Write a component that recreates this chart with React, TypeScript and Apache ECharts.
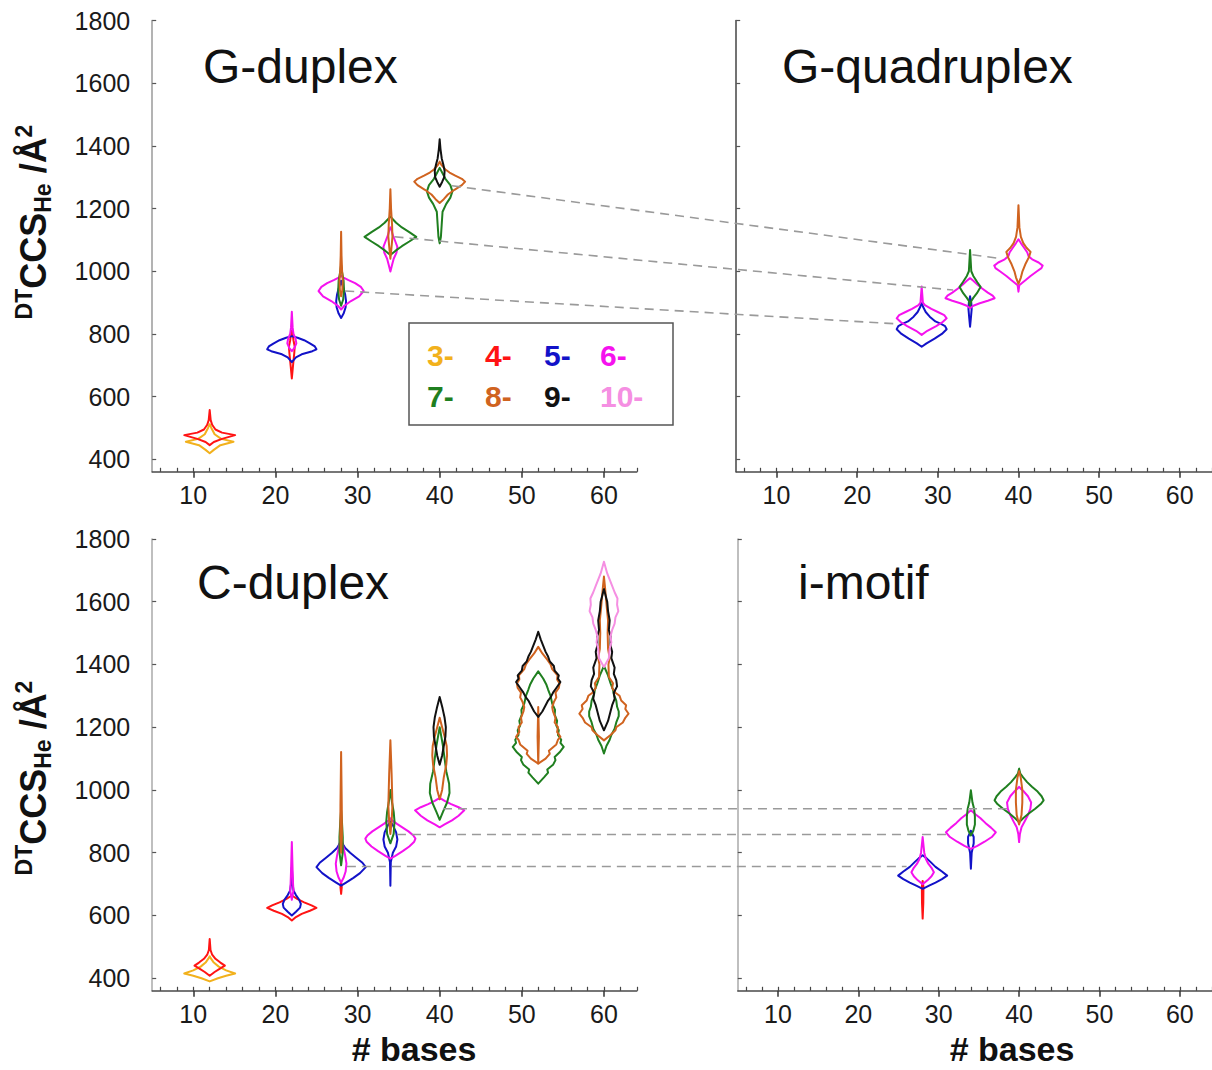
import React, { useEffect, useRef } from "react";
import * as echarts from "echarts";

// charge states and colours
const chargeLabels = ["3-", "4-", "5-", "6-", "7-", "8-", "9-", "10-"];
const chargeValues = [3, 4, 5, 6, 7, 8, 9, 10];
const chargeColors = ["#F2B11C", "#FF1414", "#1212C8", "#F512EE", "#1F7F1F", "#D0631F", "#111111", "#F58FE2"];

const yTicks = [400, 600, 800, 1000, 1200, 1400, 1600, 1800];
const xTicks = [10, 20, 30, 40, 50, 60];
const xMinorTicks = [6, 8, 10, 12, 14, 16, 18, 20, 22, 24, 26, 28, 30, 32, 34, 36, 38, 40, 42, 44, 46, 48, 50, 52, 54, 56, 58, 60, 62, 64];

type Violin = { bases: number; z: number; profile: [number, number][] };
// profile: [CCS (Å²), half width (in # bases units)] from bottom to top

const gDuplexViolins: Violin[] = [
  { bases: 12, z: 3, profile: [[419, 0], [430, 0.5], [445, 1.3], [456, 2.9], [465, 1.4], [480, 0.6], [500, 0.2], [512, 0]] },
  { bases: 12, z: 4, profile: [[445, 0], [455, 0.5], [465, 1.5], [477, 3.1], [485, 1.5], [495, 0.7], [510, 0.3], [525, 0.12], [557, 0]] },
  { bases: 22, z: 4, profile: [[658, 0], [700, 0.15], [740, 0.3], [760, 0.35], [780, 0.2], [800, 0.1], [810, 0]] },
  { bases: 22, z: 5, profile: [[710, 0], [725, 0.5], [735, 1.2], [745, 2.5], [751, 3.0], [760, 2.8], [770, 2.2], [780, 1.5], [788, 0.7], [793, 0]] },
  { bases: 22, z: 6, profile: [[745, 0], [755, 0.3], [770, 0.55], [785, 0.45], [800, 0.2], [820, 0.1], [871, 0]] },
  { bases: 28, z: 5, profile: [[851, 0], [865, 0.3], [885, 0.55], [905, 0.6], [925, 0.5], [945, 0.3], [960, 0.1], [970, 0]] },
  { bases: 28, z: 6, profile: [[878, 0], [890, 0.4], [905, 1.2], [920, 2.2], [937, 2.75], [950, 2.4], [962, 1.7], [972, 0.9], [980, 0.3], [985, 0]] },
  { bases: 28, z: 7, profile: [[890, 0], [910, 0.25], [940, 0.35], [970, 0.3], [1000, 0.1], [1020, 0]] },
  { bases: 28, z: 8, profile: [[920, 0], [940, 0.15], [970, 0.2], [1000, 0.12], [1050, 0.05], [1126, 0]] },
  { bases: 34, z: 6, profile: [[999, 0], [1020, 0.2], [1040, 0.4], [1060, 0.75], [1078, 0.85], [1095, 0.6], [1115, 0.3], [1135, 0.1], [1140, 0]] },
  { bases: 34, z: 7, profile: [[1052, 0], [1065, 0.6], [1080, 1.4], [1095, 2.3], [1110, 3.15], [1125, 2.3], [1140, 1.4], [1155, 0.7], [1170, 0.15], [1175, 0]] },
  { bases: 34, z: 8, profile: [[1040, 0], [1080, 0.15], [1110, 0.25], [1150, 0.2], [1200, 0.08], [1262, 0]] },
  { bases: 40, z: 7, profile: [[1089, 0], [1110, 0.15], [1150, 0.25], [1190, 0.35], [1215, 0.8], [1235, 1.3], [1255, 1.55], [1275, 1.3], [1295, 0.7], [1315, 0.3], [1330, 0]] },
  { bases: 40, z: 8, profile: [[1218, 0], [1230, 0.5], [1245, 1.0], [1260, 1.8], [1275, 2.7], [1286, 3.1], [1295, 2.7], [1305, 1.9], [1315, 1.2], [1325, 0.7], [1340, 0.2], [1350, 0]] },
  { bases: 40, z: 9, profile: [[1270, 0], [1285, 0.3], [1300, 0.55], [1320, 0.6], [1340, 0.45], [1360, 0.25], [1390, 0.1], [1421, 0]] },
];

const gQuadViolins: Violin[] = [
  { bases: 28, z: 5, profile: [[759, 0], [770, 0.6], [785, 1.6], [800, 2.5], [815, 3.1], [825, 2.9], [832, 2.4], [840, 1.7], [855, 1.0], [870, 0.5], [885, 0.2], [898, 0]] },
  { bases: 28, z: 6, profile: [[797, 0], [810, 0.7], [825, 1.8], [838, 2.6], [850, 3.1], [860, 2.8], [870, 2.0], [880, 1.2], [892, 0.4], [900, 0.15], [951, 0]] },
  { bases: 34, z: 5, profile: [[823, 0], [850, 0.1], [880, 0.2], [900, 0.15], [920, 0]] },
  { bases: 34, z: 6, profile: [[882, 0], [890, 0.4], [898, 1.2], [906, 2.2], [914, 3.05], [922, 2.8], [932, 2.2], [945, 1.5], [958, 0.9], [970, 0.4], [978, 0]] },
  { bases: 34, z: 7, profile: [[890, 0], [905, 0.15], [915, 0.4], [930, 0.85], [950, 1.3], [965, 0.9], [985, 0.4], [1000, 0.15], [1068, 0]] },
  { bases: 40, z: 6, profile: [[935, 0], [955, 0.1], [962, 0.4], [972, 0.9], [985, 1.5], [1000, 2.3], [1010, 2.85], [1018, 3.0], [1028, 2.5], [1038, 1.7], [1048, 1.25], [1060, 1.1], [1075, 0.7], [1090, 0.3], [1102, 0]] },
  { bases: 40, z: 8, profile: [[960, 0], [980, 0.3], [1000, 0.5], [1025, 0.9], [1045, 1.3], [1062, 1.5], [1075, 1.0], [1090, 0.6], [1110, 0.3], [1140, 0.12], [1211, 0]] },
];

const cDuplexViolins: Violin[] = [
  { bases: 12, z: 3, profile: [[390, 0], [400, 1.0], [408, 2.0], [415, 3.1], [425, 2.0], [437, 1.1], [450, 0.5], [465, 0.1], [470, 0]] },
  { bases: 12, z: 4, profile: [[408, 0], [420, 0.6], [430, 1.2], [440, 1.85], [450, 1.3], [462, 0.7], [475, 0.3], [490, 0.1], [525, 0]] },
  { bases: 22, z: 4, profile: [[584, 0], [595, 0.5], [605, 1.2], [615, 2.2], [624, 3.0], [632, 2.4], [642, 1.5], [652, 0.7], [662, 0.1], [665, 0]] },
  { bases: 22, z: 5, profile: [[600, 0], [612, 0.5], [625, 1.0], [637, 1.1], [650, 0.9], [665, 0.5], [680, 0.2], [700, 0.1], [754, 0]] },
  { bases: 22, z: 6, profile: [[650, 0], [680, 0.2], [700, 0.15], [740, 0.1], [834, 0]] },
  { bases: 28, z: 4, profile: [[669, 0], [690, 0.08], [705, 0]] },
  { bases: 28, z: 5, profile: [[695, 0], [705, 0.6], [720, 1.5], [735, 2.3], [754, 3.0], [768, 2.6], [785, 1.8], [800, 1.1], [815, 0.5], [830, 0.15], [835, 0]] },
  { bases: 28, z: 6, profile: [[705, 0], [720, 0.3], [740, 0.55], [765, 0.65], [790, 0.5], [815, 0.3], [840, 0.1], [860, 0]] },
  { bases: 28, z: 7, profile: [[760, 0], [800, 0.2], [850, 0.2], [900, 0.1], [935, 0]] },
  { bases: 28, z: 8, profile: [[800, 0], [850, 0.1], [950, 0.08], [1121, 0]] },
  { bases: 34, z: 5, profile: [[695, 0], [770, 0.05], [800, 0.3], [820, 0.7], [842, 0.85], [865, 0.7], [885, 0.35], [900, 0]] },
  { bases: 34, z: 6, profile: [[781, 0], [790, 0.6], [805, 1.5], [820, 2.3], [835, 2.9], [845, 3.05], [855, 2.8], [868, 2.2], [880, 1.5], [892, 0.8], [903, 0.2], [910, 0]] },
  { bases: 34, z: 7, profile: [[830, 0], [860, 0.4], [900, 0.5], [930, 0.4], [960, 0.2], [1000, 0]] },
  { bases: 34, z: 8, profile: [[860, 0], [900, 0.15], [950, 0.25], [1000, 0.2], [1050, 0.15], [1158, 0]] },
  { bases: 40, z: 6, profile: [[881, 0], [890, 0.6], [903, 1.5], [918, 2.3], [935, 3.0], [945, 2.3], [955, 1.4], [965, 0.6], [975, 0]] },
  { bases: 40, z: 7, profile: [[905, 0], [930, 0.4], [960, 0.9], [990, 1.2], [1020, 1.15], [1060, 0.8], [1100, 0.6], [1140, 0.4], [1170, 0.2], [1200, 0]] },
  { bases: 40, z: 8, profile: [[970, 0], [1000, 0.3], [1040, 0.5], [1080, 0.8], [1110, 0.9], [1140, 0.85], [1170, 0.6], [1200, 0.3], [1230, 0]] },
  { bases: 40, z: 9, profile: [[1080, 0], [1110, 0.3], [1140, 0.5], [1170, 0.7], [1200, 0.75], [1230, 0.6], [1260, 0.35], [1296, 0]] },
  { bases: 52, z: 7, profile: [[1020, 0], [1040, 0.7], [1055, 1.2], [1065, 1.1], [1080, 1.8], [1095, 2.1], [1105, 2.0], [1120, 2.6], [1137, 3.1], [1150, 2.7], [1160, 2.8], [1175, 2.4], [1190, 2.5], [1205, 2.2], [1220, 2.3], [1240, 2.0], [1255, 2.05], [1275, 1.7], [1300, 1.5], [1320, 1.2], [1335, 1.0], [1355, 0.6], [1378, 0]] },
  { bases: 52, z: 8, profile: [[1084, 0], [1100, 0.9], [1115, 1.4], [1125, 1.3], [1145, 2.2], [1160, 2.4], [1169, 2.7], [1185, 2.3], [1200, 2.4], [1215, 2.0], [1230, 2.1], [1250, 1.8], [1264, 1.7], [1280, 1.9], [1295, 2.2], [1310, 2.1], [1325, 2.5], [1339, 2.6], [1352, 2.3], [1365, 2.35], [1385, 1.7], [1400, 1.5], [1415, 1.1], [1435, 0.5], [1456, 0]] },
  { bases: 52, z: 8, profile: [[1084, 0], [1170, 0.08], [1264, 0]] },
  { bases: 52, z: 9, profile: [[1233, 0], [1250, 0.5], [1270, 0.9], [1285, 1.2], [1295, 1.5], [1310, 1.8], [1325, 2.2], [1344, 2.7], [1355, 2.4], [1365, 2.5], [1380, 2.0], [1395, 1.9], [1410, 1.4], [1425, 1.2], [1440, 0.9], [1460, 0.6], [1480, 0.3], [1504, 0]] },
  { bases: 60, z: 7, profile: [[1116, 0], [1140, 0.3], [1160, 0.7], [1175, 0.9], [1195, 1.3], [1215, 1.5], [1235, 1.8], [1250, 1.8], [1265, 1.6], [1285, 1.5], [1305, 1.2], [1320, 1.1], [1340, 0.8], [1365, 0.5], [1395, 0]] },
  { bases: 60, z: 8, profile: [[1158, 0], [1175, 0.8], [1190, 1.4], [1200, 1.5], [1215, 2.3], [1230, 2.6], [1243, 3.0], [1258, 2.6], [1270, 2.7], [1285, 2.1], [1300, 1.9], [1310, 1.4], [1325, 1.0], [1340, 1.1], [1360, 0.6], [1400, 0.55], [1420, 0.7], [1450, 0.5], [1500, 0.45], [1540, 0.5], [1580, 0.35], [1640, 0.15], [1680, 0]] },
  { bases: 60, z: 9, profile: [[1190, 0], [1220, 0.5], [1250, 0.8], [1270, 1.0], [1290, 1.3], [1310, 1.2], [1330, 1.6], [1350, 1.5], [1370, 1.2], [1390, 1.3], [1420, 0.9], [1440, 1.0], [1460, 0.8], [1490, 0.8], [1510, 0.6], [1540, 0.7], [1570, 0.5], [1600, 0.4], [1620, 0.2], [1640, 0]] },
  { bases: 60, z: 10, profile: [[1392, 0], [1420, 0.6], [1450, 0.7], [1470, 0.9], [1490, 0.8], [1510, 1.0], [1530, 1.3], [1550, 1.4], [1570, 1.75], [1590, 1.6], [1610, 1.65], [1630, 1.3], [1650, 1.0], [1670, 0.7], [1690, 0.4], [1727, 0]] },
];

const iMotifViolins: Violin[] = [
  { bases: 28, z: 4, profile: [[590, 0], [640, 0.08], [690, 0.1], [710, 0]] },
  { bases: 28, z: 5, profile: [[685, 0], [695, 0.8], [705, 1.6], [716, 2.4], [727, 3.05], [740, 2.4], [755, 1.6], [770, 1.0], [782, 0.5], [792, 0]] },
  { bases: 28, z: 6, profile: [[700, 0], [712, 0.6], [725, 1.1], [738, 1.4], [752, 1.1], [765, 0.7], [780, 0.4], [800, 0.2], [850, 0]] },
  { bases: 34, z: 5, profile: [[749, 0], [800, 0.1], [830, 0.35], [850, 0.35], [870, 0]] },
  { bases: 34, z: 6, profile: [[812, 0], [822, 0.8], [835, 1.7], [850, 2.6], [865, 3.1], [880, 2.5], [895, 1.8], [910, 1.2], [922, 0.6], [935, 0]] },
  { bases: 34, z: 7, profile: [[855, 0], [870, 0.3], [890, 0.5], [915, 0.5], [940, 0.4], [960, 0.2], [999, 0]] },
  { bases: 40, z: 6, profile: [[834, 0], [860, 0.1], [881, 0.3], [900, 0.7], [920, 1.1], [940, 1.4], [960, 1.5], [980, 1.1], [995, 0.6], [1004, 0.2], [1010, 0]] },
  { bases: 40, z: 7, profile: [[897, 0], [910, 0.5], [925, 1.2], [940, 2.0], [955, 2.7], [967, 3.05], [980, 2.8], [995, 2.3], [1010, 1.6], [1025, 1.0], [1040, 0.5], [1052, 0.15], [1068, 0]] },
  { bases: 40, z: 8, profile: [[890, 0], [920, 0.3], [960, 0.4], [1000, 0.4], [1040, 0.2], [1060, 0]] },
];

// dashed connectors: [bases, CCS] in the left panel -> [bases, CCS] in the right panel
const gLinks: [number, number, number, number][] = [
  [41.5, 1273, 37.4, 1042],
  [34.5, 1110, 31.9, 940],
  [28.5, 937, 25.0, 832],
];
const cLinks: [number, number, number, number][] = [
  [40.4, 940, 39.0, 940],
  [34.8, 858, 31.0, 858],
  [28.7, 756, 26.0, 756],
];

const panelTitles = ["G-duplex", "G-quadruplex", "C-duplex", "i-motif"];

const FONT = "'Liberation Sans', Arial, Helvetica, sans-serif";

const grids = [
  { left: 152.2, top: 20.6, width: 484.6, height: 451.2 },
  { left: 736.2, top: 20.6, width: 484.6, height: 451.2 },
  { left: 152.2, top: 538.9, width: 484.6, height: 451.9 },
  { left: 737.8, top: 538.9, width: 484.6, height: 451.9 },
];

const yLineColors = ["#9a9a9a", "#444444", "#aaaaaa", "#aaaaaa"];

function colorOf(z: number) {
  return chargeColors[chargeValues.indexOf(z)];
}

function makeViolinSeries(violins: Violin[], idx: number) {
  const sorted = [...violins].sort((a, b) => a.z - b.z);
  return {
    type: "custom",
    xAxisIndex: idx,
    yAxisIndex: idx,
    clip: false,
    data: sorted.map((v) => [v.bases, v.profile[0][0], v.profile[v.profile.length - 1][0]]),
    encode: { x: 0, y: [1, 2] },
    renderItem: (params: any, api: any) => {
      const v = sorted[params.dataIndex];
      const right = v.profile.map(([c, w]) => api.coord([v.bases + w, c]));
      const left = v.profile
        .slice()
        .reverse()
        .map(([c, w]) => api.coord([v.bases - w, c]));
      return {
        type: "polygon",
        shape: { points: right.concat(left) },
        style: { fill: "none", stroke: colorOf(v.z), lineWidth: 2, lineJoin: "round" },
      };
    },
  };
}

export default function App() {
  const ref = useRef<HTMLDivElement>(null);

  useEffect(() => {
    if (!ref.current) return;
    const chart = echarts.init(ref.current, null, { renderer: "svg" });

    const xAxes: any[] = [];
    const minorAxes: any[] = [];
    const yAxes: any[] = [];
    grids.forEach((_, i) => {
      xAxes.push({
        type: "value",
        gridIndex: i,
        position: "bottom",
        min: 5,
        max: 64,
        axisLine: { show: true, onZero: false, lineStyle: { color: "#4a4a4a", width: 1.5 } },
        axisTick: { show: true, inside: false, length: 6, customValues: xTicks, lineStyle: { color: "#333", width: 1.5 } },
        axisLabel: { show: true, customValues: xTicks, fontSize: 25, color: "#1a1a1a", fontFamily: FONT, margin: 11 },
        splitLine: { show: false },
      });
      minorAxes.push({
        type: "value",
        gridIndex: i,
        position: "bottom",
        min: 5,
        max: 64,
        axisLine: { show: false },
        axisTick: { show: true, inside: true, length: 4, customValues: xMinorTicks, lineStyle: { color: "#444", width: 1.2 } },
        axisLabel: { show: false },
        splitLine: { show: false },
      });
      yAxes.push({
        type: "value",
        gridIndex: i,
        min: 360,
        max: 1800,
        axisLine: { show: true, onZero: false, lineStyle: { color: yLineColors[i], width: 1.5 } },
        axisTick: { show: true, inside: true, length: 4, customValues: yTicks, lineStyle: { color: "#555", width: 1.2 } },
        axisLabel: {
          show: i % 2 === 0,
          customValues: yTicks,
          formatter: (v: number) => String(v),
          fontSize: 25,
          color: "#1a1a1a",
          fontFamily: FONT,
          margin: 22,
        },
        splitLine: { show: false },
      });
    });

    const titlePos = [
      [203, 66],
      [782, 66],
      [197, 582],
      [798, 582],
    ];

    const baseGraphics: any[] = [];
    panelTitles.forEach((t, i) => {
      baseGraphics.push({
        id: "title" + i,
        type: "text",
        x: titlePos[i][0],
        y: titlePos[i][1],
        style: { text: t, fontSize: 48, fontFamily: FONT, fill: "#111", align: "left", verticalAlign: "middle" },
      });
    });
    const yTitleRich = {
      s: { fontSize: 23, fontWeight: "bold", fontFamily: FONT, fill: "#111", verticalAlign: "top", lineHeight: 42 },
      u: { fontSize: 23, fontWeight: "bold", fontFamily: FONT, fill: "#111", verticalAlign: "bottom", lineHeight: 42 },
      b: { fontSize: 36, fontWeight: "bold", fontFamily: FONT, fill: "#111", lineHeight: 42 },
    };
    [222, 778].forEach((cy, i) => {
      baseGraphics.push({
        id: "ytitle" + i,
        type: "text",
        x: 33,
        y: cy,
        rotation: Math.PI / 2,
        style: {
          text: "{s|DT}{b|CCS}{u|He}{b| /Å}{s|2}",
          rich: yTitleRich,
          align: "center",
          verticalAlign: "middle",
        },
      });
    });
    [414, 1012].forEach((cx, i) => {
      baseGraphics.push({
        id: "xtitle" + i,
        type: "text",
        x: cx,
        y: 1049,
        style: { text: "# bases", fontSize: 34, fontWeight: "bold", fontFamily: FONT, fill: "#111", align: "center", verticalAlign: "middle" },
      });
    });
    // legend box
    baseGraphics.push({
      id: "legendBox",
      type: "rect",
      shape: { x: 409, y: 323, width: 264, height: 102 },
      style: { fill: "#fff", stroke: "#555", lineWidth: 1.5 },
      z: 10,
    });
    const legCols = [427, 485, 544, 600];
    const legRows = [355, 396];
    chargeLabels.forEach((lab, k) => {
      baseGraphics.push({
        id: "leg" + k,
        type: "text",
        x: legCols[k % 4],
        y: legRows[Math.floor(k / 4)],
        z: 11,
        style: { text: lab, fontSize: 30, fontWeight: "bold", fontFamily: FONT, fill: chargeColors[k], align: "left", verticalAlign: "middle" },
      });
    });

    const option: any = {
      animation: false,
      backgroundColor: "#ffffff",
      grid: grids,
      xAxis: [...xAxes, ...minorAxes],
      yAxis: yAxes,
      series: [
        makeViolinSeries(gDuplexViolins, 0),
        makeViolinSeries(gQuadViolins, 1),
        makeViolinSeries(cDuplexViolins, 2),
        makeViolinSeries(iMotifViolins, 3),
      ],
      graphic: baseGraphics,
    };
    chart.setOption(option);

    const lineEls: any[] = [];
    const addLinks = (links: [number, number, number, number][], from: number, to: number, tag: string) => {
      links.forEach((l, k) => {
        const p1 = chart.convertToPixel({ xAxisIndex: from, yAxisIndex: from } as any, [l[0], l[1]]) as number[];
        const p2 = chart.convertToPixel({ xAxisIndex: to, yAxisIndex: to } as any, [l[2], l[3]]) as number[];
        lineEls.push({
          id: tag + k,
          type: "line",
          z: 5,
          shape: { x1: p1[0], y1: p1[1], x2: p2[0], y2: p2[1] },
          style: { stroke: "#9a9a9a", lineWidth: 1.6, lineDash: [9, 6] },
        });
      });
    };
    addLinks(gLinks, 0, 1, "gl");
    addLinks(cLinks, 2, 3, "cl");
    chart.setOption({ graphic: [...baseGraphics, ...lineEls] });

    return () => chart.dispose();
  }, []);

  return (
    <div
      ref={ref}
      style={{ position: "fixed", left: 0, top: 0, width: 1212, height: 1070, background: "#fff" }}
    />
  );
}
